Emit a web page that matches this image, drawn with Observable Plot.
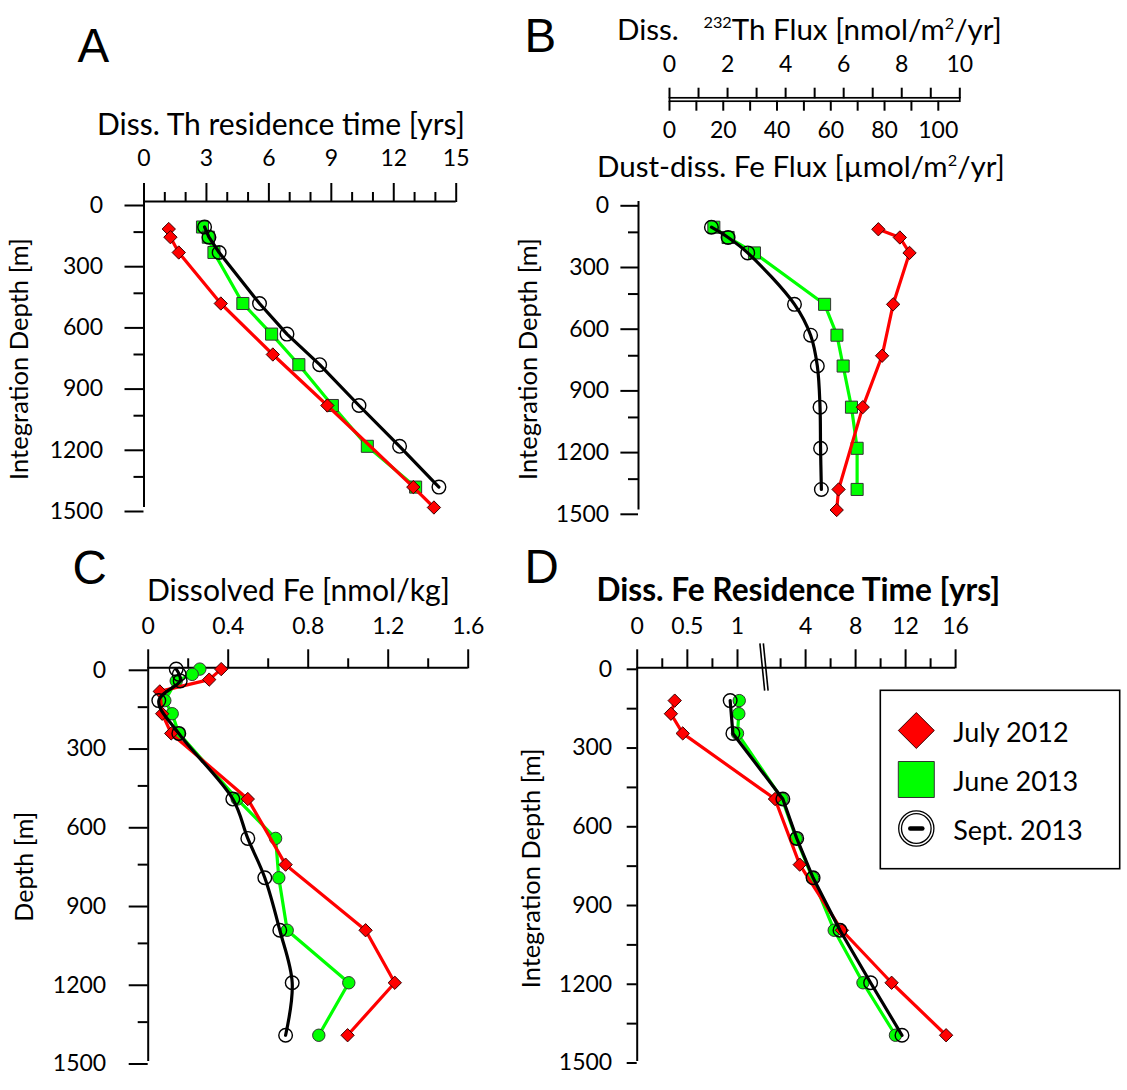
<!DOCTYPE html>
<html><head><meta charset="utf-8">
<script src="https://cdn.jsdelivr.net/npm/d3@7"></script>
<script src="https://cdn.jsdelivr.net/npm/@observablehq/plot@0.6"></script>
<style>
html,body{margin:0;padding:0;background:#fff;}
#root{position:relative;width:1127px;height:1090px;background:#fff;overflow:hidden;}
</style></head><body><div id="root"></div>
<script>
// ---------------- DATA ----------------
const seriesNames = ["July 2012", "June 2013", "Sept. 2013"];
const seriesColors = ["#ff0000", "#00ff00", "#000000"];

const depthMajor = [0, 300, 600, 900, 1200, 1500];
const depthMinor = [150, 450, 750, 1050, 1350];

// Panel A: dissolved Th residence time [yrs]
const aTickMajor = [0, 3, 6, 9, 12, 15];
const aTickMinor = [1, 2, 4, 5, 7, 8, 10, 11, 13, 14];
const aJulyDepth = [135, 175, 250, 500, 750, 1000, 1400, 1500];
const aJulyValue = [1.19, 1.27, 1.67, 3.69, 6.19, 8.81, 12.94, 13.93];
const aJuneDepth = [125, 175, 250, 500, 650, 800, 1000, 1200, 1400];
const aJuneValue = [2.81, 3.09, 3.36, 4.75, 6.13, 7.44, 9.05, 10.73, 13.05];
const aSeptDepth = [125, 175, 250, 500, 650, 800, 1000, 1200, 1400];
const aSeptValue = [2.91, 3.12, 3.61, 5.55, 6.87, 8.44, 10.33, 12.28, 14.17];

// Panel B: dust-dissolved Fe flux [umol/m2/yr] (paired with 232Th flux [nmol/m2/yr])
const thToFe = 10.8;                 // 10 nmol Th  <->  108 umol Fe on the paired axes
const bThTicks = [0, 1, 2, 3, 4, 5, 6, 7, 8, 9, 10];
const bFeTicks = [0, 10, 20, 30, 40, 50, 60, 70, 80, 90, 100];
const bJulyDepth = [135, 175, 250, 500, 750, 1000, 1400, 1500];
const bJulyValue = [77.7, 85.7, 89.3, 83.2, 79.1, 71.9, 62.9, 62.2];
const bJuneDepth = [125, 175, 250, 500, 650, 800, 1000, 1200, 1400];
const bJuneValue = [16.5, 21.8, 31.6, 57.7, 62.3, 64.6, 67.7, 69.8, 69.8];
const bSeptDepth = [125, 175, 250, 500, 650, 800, 1000, 1200, 1400];
const bSeptValue = [15.6, 21.8, 29.1, 46.5, 52.5, 55.0, 56.0, 56.2, 56.5];

// Panel C: dissolved Fe [nmol/kg]
const cTickMajor = [0, 0.4, 0.8, 1.2, 1.6];
const cTickMinor = [0.2, 0.6, 1.0, 1.4];
const cJulyDepth = [5, 45, 90, 175, 250, 500, 750, 1000, 1200, 1400];
const cJulyValue = [0.365, 0.305, 0.058, 0.07, 0.115, 0.498, 0.687, 1.087, 1.233, 0.997];
const cJuneDepth = [5, 25, 50, 125, 175, 250, 500, 650, 800, 1000, 1200, 1400];
const cJuneValue = [0.258, 0.22, 0.14, 0.083, 0.12, 0.153, 0.445, 0.637, 0.653, 0.695, 1.003, 0.853];
const cSeptDepth = [5, 25, 50, 125, 250, 500, 650, 800, 1000, 1200, 1400];
const cSeptValue = [0.14, 0.155, 0.16, 0.053, 0.153, 0.423, 0.498, 0.583, 0.658, 0.72, 0.687];

// Panel D: dissolved Fe residence time [yrs] (broken axis)
const dTickMajor = [0, 0.5, 1, 4, 8, 12, 16];
const dTickMinor = [0.25, 0.75, 2, 6, 10, 14];
const dAxisKnots = [0, 1, 2, 16];          // breakpoints of the broken axis
const dAxisSpan  = [0, 100.3, 143.4, 318.4]; // relative length of each axis segment
const dBreaks = [{x1: 1.52, x2: 1.63}, {x1: 1.60, x2: 1.71}];
const dJulyDepth = [125, 175, 250, 500, 750, 1000, 1200, 1400];
const dJulyValue = [0.374, 0.336, 0.454, 1.87, 3.53, 6.90, 10.88, 15.24];
const dJuneDepth = [125, 175, 250, 500, 650, 800, 1000, 1200, 1400];
const dJuneValue = [1.04, 1.03, 1.0, 2.12, 3.25, 4.55, 6.29, 8.59, 11.19];
const dSeptDepth = [125, 250, 500, 650, 800, 1000, 1200, 1400];
const dSeptValue = [0.927, 0.954, 2.18, 3.29, 4.60, 6.75, 9.20, 11.71];

// ---------------- HELPERS ----------------
const root = document.getElementById("root");
const FONT = "Lato, 'Open Sans', sans-serif";
const rows = (depths, values) => depths.map((d, i) => ({depth: d, value: values[i]}));
const baseStyle = {fontFamily: FONT, fontSize: "23px", background: "transparent", overflow: "visible", color: "#000"};
const depthScale = {domain: [0, 1500], reverse: true};

function mount(svg, left, top) {
  svg.style.position = "absolute";
  svg.style.left = left + "px";
  svg.style.top = top + "px";
  root.appendChild(svg);
}

function seriesMarks(july, june, sept, greenSymbol, septCurve, xf = d => d.value) {
  const P = {x: xf, y: "depth"};
  return [
    Plot.line(june, {...P, stroke: seriesColors[1], strokeWidth: 3.2}),
    Plot.dot(june, {...P, symbol: greenSymbol, r: greenSymbol === "square" ? 6.8 : 6.2, fill: seriesColors[1], stroke: "#333", strokeWidth: 1}),
    Plot.line(july, {...P, stroke: seriesColors[0], strokeWidth: 3.2}),
    Plot.dot(july, {...P, symbol: "diamond2", r: 6, fill: seriesColors[0], stroke: "#3a0000", strokeWidth: 1}),
    Plot.line(sept, {...P, stroke: seriesColors[2], strokeWidth: 3.2, curve: septCurve}),
    Plot.dot(sept, {...P, symbol: "circle", r: 6.8, fill: "none", stroke: seriesColors[2], strokeWidth: 1.4})
  ];
}

function depthAxes(majorSize, minorSize, pad, dy) {
  return [
    Plot.axisY(depthMajor, {anchor: "left", tickSize: majorSize, tickPadding: pad, tickFormat: d => String(d), strokeWidth: 2, label: null, dy}),
    Plot.axisY(depthMinor, {anchor: "left", tickSize: minorSize, tickFormat: () => "", strokeWidth: 2, label: null})
  ];
}
function valueAxes(major, minor, pad, fmt = d => String(d)) {
  return [
    Plot.axisX(major, {anchor: "top", tickSize: 19, tickPadding: pad, tickFormat: fmt, strokeWidth: 2, label: null}),
    Plot.axisX(minor, {anchor: "top", tickSize: 10, tickFormat: () => "", strokeWidth: 2, label: null})
  ];
}

// ---------------- PANEL A ----------------
mount(Plot.plot({
  width: 515, height: 530,
  marginTop: 201, marginBottom: 23, marginLeft: 143.5, marginRight: 59.3,
  x: {domain: [0, 15]}, y: depthScale,
  style: baseStyle,
  marks: [
    Plot.ruleY([0], {x1: 0, x2: 15, strokeWidth: 2}),
    Plot.ruleX([0], {y1: 0, y2: 1500, strokeWidth: 2}),
    ...valueAxes(aTickMajor, aTickMinor, 16.5),
    ...depthAxes(19, 10, 22, 4),
    ...seriesMarks(rows(aJulyDepth, aJulyValue), rows(aJuneDepth, aJuneValue), rows(aSeptDepth, aSeptValue), "square", "linear")
  ]
}), 0, 0);

// ---------------- PANEL B: paired flux axes ----------------
mount(Plot.plot({
  width: 612, height: 110,
  marginTop: 57.3, marginBottom: 49.3, marginLeft: 154, marginRight: 167.7,
  x: {domain: [0, 10 * thToFe]},
  style: baseStyle,
  marks: [
    Plot.frame({stroke: "#000", strokeWidth: 1.7}),
    Plot.axisX(bThTicks.map(t => t * thToFe), {anchor: "top", tickSize: 10.6, tickPadding: 15.5, strokeWidth: 2, label: null,
      tickFormat: d => { const t = Math.round(d / thToFe); return t % 2 === 0 ? String(t) : ""; }}),
    Plot.axisX(bFeTicks, {anchor: "bottom", tickSize: 10, tickPadding: 10, strokeWidth: 2, label: null,
      tickFormat: d => d % 20 === 0 ? String(d) : ""})
  ]
}), 515, 40);

// ---------------- PANEL B: profiles ----------------
const bAxisOrigin = -11.53;   // the depth axis sits left of the flux origin
mount(Plot.plot({
  width: 612, height: 350,
  marginTop: 21, marginBottom: 20.5, marginLeft: 123, marginRight: 167.7,
  x: {domain: [bAxisOrigin, 10 * thToFe], axis: null}, y: depthScale,
  style: baseStyle,
  marks: [
    Plot.ruleX([bAxisOrigin], {y1: 0, y2: 1500, strokeWidth: 2}),
    ...depthAxes(17.6, 10, 11.7, 4.3),
    ...seriesMarks(rows(bJulyDepth, bJulyValue), rows(bJuneDepth, bJuneValue), rows(bSeptDepth, bSeptValue), "square", "catmull-rom")
  ]
}), 515, 180);

// ---------------- PANEL C ----------------
mount(Plot.plot({
  width: 515, height: 560,
  marginTop: 137.3, marginBottom: 29, marginLeft: 147.7, marginRight: 47.3,
  x: {domain: [0, 1.6]}, y: depthScale,
  style: baseStyle,
  marks: [
    Plot.ruleY([0], {x1: 0, x2: 1.6, strokeWidth: 2}),
    Plot.ruleX([0], {y1: 0, y2: 1500, strokeWidth: 2}),
    ...valueAxes(cTickMajor, cTickMinor, 14.8),
    ...depthAxes(19, 10, 23, 2.5),
    ...seriesMarks(rows(cJulyDepth, cJulyValue), rows(cJuneDepth, cJuneValue), rows(cSeptDepth, cSeptValue), "circle", "catmull-rom")
  ]
}), 0, 530);

// ---------------- PANEL D (broken axis) ----------------
const dWarp = d3.scaleLinear().domain(dAxisKnots).range(dAxisSpan);
const dFmt = v => String(+dWarp.invert(v).toFixed(2));
const dEnd = dWarp(dAxisKnots[dAxisKnots.length - 1]);
mount(Plot.plot({
  width: 612, height: 560,
  marginTop: 137.3, marginBottom: 29, marginLeft: 121.7, marginRight: 171.9,
  x: {domain: [0, dEnd]}, y: depthScale,
  style: baseStyle,
  marks: [
    Plot.ruleY([0], {x1: 0, x2: dEnd, strokeWidth: 2}),
    Plot.ruleX([0], {y1: 0, y2: 1500, strokeWidth: 2}),
    Plot.link(dBreaks, {x1: d => dWarp(d.x1), x2: d => dWarp(d.x2), y1: () => -93, y2: () => 87, stroke: "#000", strokeWidth: 1.6}),
    ...valueAxes(dTickMajor.map(dWarp), dTickMinor.map(dWarp), 15, dFmt),
    Plot.axisY(depthMajor.concat(depthMinor), {anchor: "left", tickSize: 10, tickPadding: 15, strokeWidth: 2, label: null, dy: 1.5,
      tickFormat: d => d % 300 === 0 ? String(d) : ""}),
    ...seriesMarks(rows(dJulyDepth, dJulyValue), rows(dJuneDepth, dJuneValue), rows(dSeptDepth, dSeptValue), "circle", "linear", d => dWarp(d.value))
  ]
}), 515, 530);

// ---------------- LEGEND ----------------
const dashSymbol = {draw(ctx, size) { const w = Math.sqrt(size) / 2; ctx.moveTo(-w, 0); ctx.lineTo(w, 0); }};
const legendAt = {frameAnchor: "left", y: d => d};
mount(Plot.plot({
  width: 241, height: 180, margin: 0.8,
  y: {type: "point", domain: seriesNames, range: [41, 139], padding: 0, axis: null},
  style: baseStyle,
  marks: [
    Plot.frame({stroke: "#000", strokeWidth: 1.6}),
    Plot.dot([seriesNames[0]], {...legendAt, dx: 36, symbol: "diamond2", r: 16.2, fill: seriesColors[0], stroke: "#3a0000", strokeWidth: 1}),
    Plot.dot([seriesNames[1]], {...legendAt, dx: 36, symbol: "square", r: 20.3, fill: seriesColors[1], stroke: "#333", strokeWidth: 1}),
    Plot.dot([seriesNames[2]], {...legendAt, dx: 36, symbol: "circle", r: 17.6, fill: "none", stroke: "#000", strokeWidth: 1.3}),
    Plot.dot([seriesNames[2]], {...legendAt, dx: 36, symbol: "circle", r: 14.8, fill: "none", stroke: "#000", strokeWidth: 1.3}),
    Plot.dot([seriesNames[2]], {...legendAt, dx: 36, symbol: dashSymbol, r: 6.8, stroke: "#000", strokeWidth: 4.5, strokeLinecap: "round"}),
    Plot.text(seriesNames, {...legendAt, text: d => d, dx: 73, dy: 3, textAnchor: "start", fontSize: 27})
  ]
}), 879, 689);

// ---------------- TITLES / LABELS ----------------
const overlay = d3.select(root).append("svg")
  .attr("width", 1127).attr("height", 1090)
  .style("position", "absolute").style("left", "0px").style("top", "0px")
  .style("overflow", "visible").style("pointer-events", "none");

function addText({parts, family = FONT, weight = 400, size = 24, width, left, baseline, cx, cy, rotate = false}) {
  const t = overlay.append("text")
    .attr("font-family", family).attr("font-weight", weight).attr("font-size", size)
    .attr("fill", "#000").style("white-space", "pre");
  for (const p of parts) {
    const s = t.append("tspan").text(p.text);
    if (p.size) s.attr("font-size", p.size);
    if (p.dy) s.attr("dy", p.dy);
    if (p.dx) s.attr("dx", p.dx);
  }
  if (width) {
    const w = t.node().getBBox().width;
    t.attr("font-size", size * width / w);
  }
  if (rotate) t.attr("text-anchor", "middle").attr("transform", `translate(${cx},${cy}) rotate(-90)`);
  else t.attr("x", left).attr("y", baseline);
}

const LETTER = "'Liberation Sans', Arial, sans-serif";
addText({parts: [{text: "A"}], family: LETTER, size: 47.5, left: 77.5, baseline: 62});
addText({parts: [{text: "B"}], family: LETTER, size: 47.5, left: 524.5, baseline: 51.7});
addText({parts: [{text: "C"}], family: LETTER, size: 47.5, left: 72.5, baseline: 584});
addText({parts: [{text: "D"}], family: LETTER, size: 47.5, left: 524.5, baseline: 583});

addText({parts: [{text: "Diss. Th residence time [yrs]"}], width: 368, left: 97, baseline: 135});
addText({parts: [
  {text: "Diss. "},
  {text: "232", size: "0.55em", dy: "-0.75em", dx: "1.05em"},
  {text: "Th Flux [nmol/m", dy: "0.4125em"},
  {text: "2", size: "0.55em", dy: "-0.65em"},
  {text: "/yr]", dy: "0.3575em"}
], width: 385, left: 617, baseline: 40});
addText({parts: [
  {text: "Dust-diss. Fe Flux [\u00b5mol/m"},
  {text: "2", size: "0.55em", dy: "-0.65em"},
  {text: "/yr]", dy: "0.3575em"}
], width: 408, left: 597, baseline: 176.7});
addText({parts: [{text: "Dissolved Fe [nmol/kg]"}], width: 303, left: 147, baseline: 600.7});
addText({parts: [{text: "Diss. Fe Residence Time [yrs]"}], weight: 700, width: 404, left: 596.5, baseline: 600.7});

addText({parts: [{text: "Integration Depth [m]"}], width: 242, rotate: true, cx: 28.3, cy: 359});
addText({parts: [{text: "Integration Depth [m]"}], width: 242, rotate: true, cx: 536.7, cy: 359});
addText({parts: [{text: "Depth [m]"}], width: 110, rotate: true, cx: 33.3, cy: 866.7});
addText({parts: [{text: "Integration Depth [m]"}], width: 240, rotate: true, cx: 540, cy: 868.3});
</script></body></html>
